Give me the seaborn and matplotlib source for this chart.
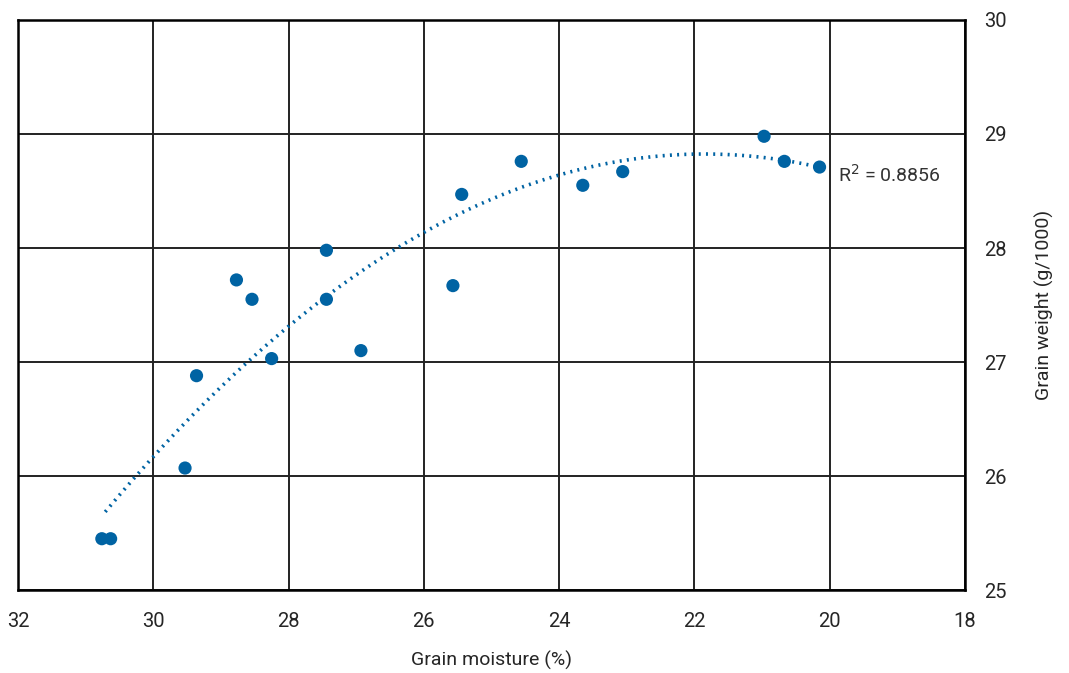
import numpy as np
import pandas as pd
import matplotlib
matplotlib.use("Agg")
import matplotlib.pyplot as plt
import seaborn as sns

# Grain moisture (%) and thousand-grain weight (g/1000)
moisture = [30.76, 30.63, 29.53, 29.36, 28.77, 28.54, 28.25, 27.44, 27.44,
            26.93, 25.57, 25.44, 24.56, 23.65, 23.06, 20.97, 20.67, 20.15]
weight = [25.45, 25.45, 26.07, 26.88, 27.72, 27.55, 27.03, 27.98, 27.55,
          27.10, 27.67, 28.47, 28.76, 28.55, 28.67, 28.98, 28.76, 28.71]
r_squared = 0.8856
x_ticks = [32, 30, 28, 26, 24, 22, 20, 18]
y_ticks = [25, 26, 27, 28, 29, 30]

df = pd.DataFrame({"moisture": moisture, "weight": weight})

sns.set_theme(style="white")
plt.rcParams["font.family"] = ["Roboto", "DejaVu Sans"]

blue = "#0063a3"
ink = "#262626"
fig = plt.figure(figsize=(10.69, 6.73), dpi=100)
ax = fig.add_axes([0.0168, 0.1233, 0.9027 - 0.0168, 0.9703 - 0.1233])

# second-order polynomial trend line
coef = np.polyfit(df["moisture"], df["weight"], 2)
xs = np.linspace(df["moisture"].max() - 0.05, df["moisture"].min() + 0.05, 200)
ax.plot(xs, np.polyval(coef, xs), color=blue, lw=2.6, ls=(0, (0.55, 1.45)),
        zorder=2)

sns.scatterplot(data=df, x="moisture", y="weight", ax=ax, color=blue, s=90,
                edgecolor="none", zorder=3)

ax.set_xlim(32, 18)
ax.set_ylim(25, 30)
ax.set_xticks(x_ticks)
ax.set_yticks(y_ticks)
ax.yaxis.tick_right()
ax.yaxis.set_label_position("right")
ax.grid(True, color="#222222", lw=1.4)
ax.set_axisbelow(True)
for s in ax.spines.values():
    s.set_color("black")
    s.set_linewidth(1.8)
ax.tick_params(axis="x", length=0, labelsize=14.5, colors=ink, pad=16)
ax.tick_params(axis="y", length=0, labelsize=14.5, colors=ink, pad=14)

ax.set_xlabel("Grain moisture (%)", fontsize=14, color=ink, labelpad=14)
ax.set_ylabel("Grain weight (g/1000)", fontsize=14, color=ink, labelpad=20)

ax.text(19.88, 28.64, f"R$^2$ = {r_squared}", fontsize=14, color="#333333",
        va="center", ha="left")

fig.savefig("out.png", dpi=100)
